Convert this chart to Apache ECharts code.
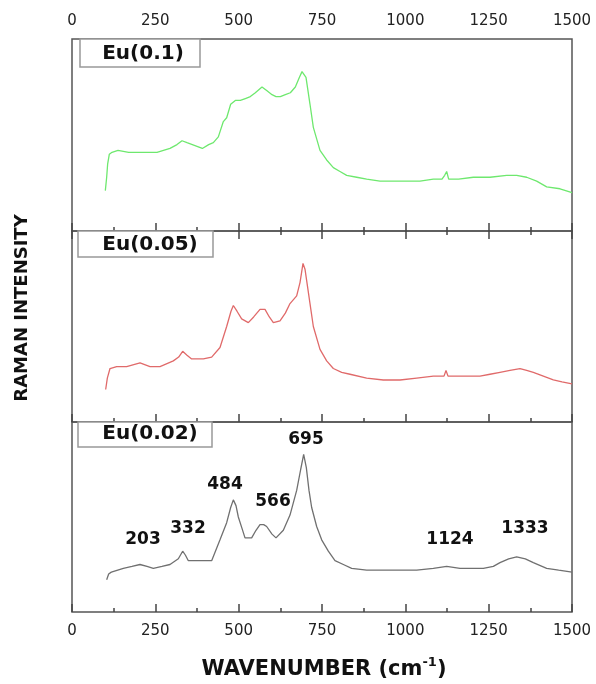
<!DOCTYPE html>
<html><head><meta charset="utf-8">
<script src="https://cdn.jsdelivr.net/npm/echarts@6/dist/echarts.min.js"></script>
<style>html,body{margin:0;padding:0;background:#fff}#c{width:596px;height:684px}</style>
</head><body><div id="c"></div>
<script>
// Wavenumber tick labels
const xTicks = [0, 250, 500, 750, 1000, 1250, 1500];
const sampleNames = ['Eu(0.1)', 'Eu(0.05)', 'Eu(0.02)'];

// Eu(0.1) spectrum (green)
const greenX = [100,104,107,112,120,138,170,213,255,294,315,330,345,361,391,410,424,439,454,464,476,490,505,520,535,550,570,585,600,612,625,640,655,670,682,690,696,702,708,714,724,744,764,784,804,824,854,884,924,964,1004,1044,1084,1110,1118,1124,1130,1160,1204,1254,1304,1334,1364,1394,1424,1464,1500];
const greenY = [21,28,35,40,41,42,41,41,41,43,45,47,46,45,43,45,46,49,57,59,66,68,68,69,70,72,75,73,71,70,70,71,72,75,80,83,84,80,73,66,54,42,37,33,31,29,28,27,26,26,26,26,27,27,29,31,27,27,28,28,29,29,28,26,23,22,20];

// Eu(0.05) spectrum (red)
const redX = [101,106,114,134,164,204,234,264,304,320,332,345,359,394,419,444,464,477,484,495,509,529,545,564,579,592,604,624,640,654,674,684,693,699,704,714,724,744,764,784,809,834,884,934,984,1034,1084,1116,1122,1128,1180,1224,1254,1284,1314,1344,1364,1384,1414,1444,1470,1500];
const redY = [17,23,28,29,29,31,29,29,32,34,37,35,33,33,34,39,50,58,61,58,54,52,55,59,59,55,52,53,57,62,66,73,83,80,74,62,50,38,32,28,26,25,23,22,22,23,24,24,27,24,24,24,25,26,27,28,27,26,24,22,21,20];

// Eu(0.02) spectrum (gray)
const grayX = [104,110,118,154,180,204,225,244,270,294,319,332,340,349,374,400,419,444,464,476,484,492,499,510,519,539,552,564,575,584,600,612,634,654,674,686,695,703,711,719,734,749,769,789,814,839,884,934,984,1034,1084,1124,1164,1204,1234,1264,1284,1310,1334,1360,1384,1424,1460,1500];
const grayY = [17,20,21,23,24,25,24,23,24,25,28,32,30,27,27,27,27,38,47,55,59,56,50,44,39,39,43,46,46,45,41,39,43,51,64,75,83,76,64,55,45,38,32,27,25,23,22,22,22,22,23,24,23,23,23,24,26,28,29,28,26,23,22,21];

// Peak annotations (bottom panel)
const peakLabels = ['203','332','484','566','695','1124','1333'];
const peakLabelX = [213,348,459,603,702,1134,1359];
const peakLabelY = [38,44,67,58,91,38,44];

const zip = (a, b) => a.map((v, i) => [v, b[i]]);

const chart = echarts.init(document.getElementById('c'), null, {renderer: 'canvas'});
const L = 72, R = 24;
const grids = [
  {left: L, right: R, top: 39, height: 192},
  {left: L, right: R, top: 231, height: 191},
  {left: L, right: R, top: 422, height: 190}
].map(g => Object.assign(g, {show: true, borderColor: '#555', borderWidth: 1.5, backgroundColor: 'transparent'}));

function xAx(gi, pos, labels) {
  return {
    type: 'value', gridIndex: gi, position: pos, min: 0, max: 1500, interval: 250,
    axisLine: {show: false},
    axisTick: {show: true, inside: true, length: 8, lineStyle: {color: '#444', width: 1.5}},
    minorTick: {show: true, splitNumber: 2, length: 4, lineStyle: {color: '#444', width: 1.5}},
    splitLine: {show: false}, minorSplitLine: {show: false},
    axisLabel: {show: labels, color: '#222', fontFamily: 'DejaVu Sans', fontSize: 15, margin: pos === 'top' ? 10 : 12,
      formatter: v => xTicks.includes(v) ? String(v) : ''}
  };
}
function yAx(gi) {
  return {type: 'value', gridIndex: gi, min: 0, max: 100, show: true,
    axisLine: {show: false}, axisTick: {show: false}, axisLabel: {show: false}, splitLine: {show: false}};
}

const boxes = [
  {x: 80, y: 39, w: 120, h: 28, tx: 143, ty: 54},
  {x: 78, y: 231, w: 135, h: 26, tx: 150, ty: 245},
  {x: 78, y: 422, w: 134, h: 25, tx: 150, ty: 434}
];
const graphic = [];
boxes.forEach((b, i) => {
  graphic.push({type: 'rect', shape: {x: b.x, y: b.y, width: b.w, height: b.h}, z: 100,
    style: {fill: '#fff', stroke: '#999', lineWidth: 1.5}});
  graphic.push({type: 'text', x: b.tx, y: b.ty, z: 101,
    style: {text: sampleNames[i], fill: '#111', font: 'bold 20px "DejaVu Sans"', textAlign: 'center', textVerticalAlign: 'middle'}});
});
graphic.push({type: 'text', x: 22, y: 308, rotation: Math.PI / 2, z: 101,
  style: {text: 'RAMAN INTENSITY', fill: '#111', font: 'bold 18px "DejaVu Sans"', textAlign: 'center', textVerticalAlign: 'middle'}});
graphic.push({type: 'text', x: 324, y: 668, z: 101,
  style: {text: '{a|WAVENUMBER (cm}{s|-1}{a|)}', textAlign: 'center', textVerticalAlign: 'middle',
    rich: {a: {fontFamily: 'DejaVu Sans', fontWeight: 'bold', fontSize: 21, fill: '#111', lineHeight: 24, verticalAlign: 'bottom'},
           s: {fontFamily: 'DejaVu Sans', fontWeight: 'bold', fontSize: 13, fill: '#111', lineHeight: 24, verticalAlign: 'top'}}}});

chart.setOption({
  animation: false,
  backgroundColor: '#fff',
  grid: grids,
  xAxis: [xAx(0, 'top', true), xAx(0, 'bottom', false), xAx(1, 'bottom', false), xAx(2, 'bottom', true)],
  yAxis: [yAx(0), yAx(1), yAx(2)],
  graphic: graphic,
  series: [
    {type: 'line', xAxisIndex: 0, yAxisIndex: 0, data: zip(greenX, greenY), showSymbol: false, symbol: 'none',
      lineStyle: {color: '#6ee86e', width: 1.3}},
    {type: 'line', xAxisIndex: 2, yAxisIndex: 1, data: zip(redX, redY), showSymbol: false, symbol: 'none',
      lineStyle: {color: '#e06a6a', width: 1.3}},
    {type: 'line', xAxisIndex: 3, yAxisIndex: 2, data: zip(grayX, grayY), showSymbol: false, symbol: 'none',
      lineStyle: {color: '#707070', width: 1.3}},
    {type: 'scatter', xAxisIndex: 3, yAxisIndex: 2, symbolSize: 1, itemStyle: {color: 'transparent'},
      data: peakLabels.map((t, i) => ({value: [peakLabelX[i], peakLabelY[i]], name: t})),
      label: {show: true, position: 'inside', formatter: p => p.name, color: '#111', opacity: 1,
        textBorderWidth: 0, textShadowBlur: 0,
        fontFamily: 'DejaVu Sans', fontWeight: 'bold', fontSize: 17}}
  ]
});
</script></body></html>
